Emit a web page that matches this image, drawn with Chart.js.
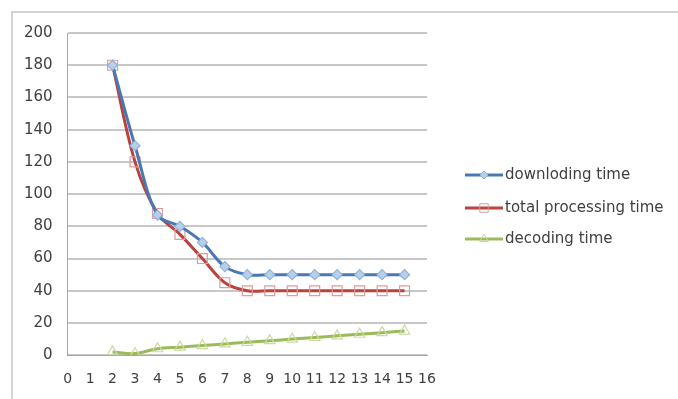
<!DOCTYPE html>
<html>
<head>
<meta charset="utf-8">
<script src="https://cdn.jsdelivr.net/npm/chart.js@4/dist/chart.umd.min.js"></script>
<style>
  html, body { margin: 0; padding: 0; background: #fff; }
  #wrap { position: absolute; left: 0; top: 0; width: 678px; height: 399px; }
  #frame { position: absolute; left: 11px; top: 11px; width: 667px; height: 388px;
           border-top: 2px solid #d4d4d4; border-left: 2px solid #d4d4d4; box-sizing: border-box; }
</style>
</head>
<body>
<div id="wrap">
  <div id="frame"></div>
  <canvas id="chart" width="678" height="399"></canvas>
</div>
<script>
'use strict';

// --- DADOS ---
const xValues = [2, 3, 4, 5, 6, 7, 8, 9, 10, 11, 12, 13, 14, 15];
const downloadingTime = [180, 130, 87, 80, 70, 55, 50, 50, 50, 50, 50, 50, 50, 50];
const totalProcessingTime = [180, 120, 88, 75, 60, 45, 40, 40, 40, 40, 40, 40, 40, 40];
const decodingTime = [2, 1, 4, 5, 6, 7, 8, 9, 10, 11, 12, 13, 14, 15];
const seriesNames = ['downloding time', 'total processing time', 'decoding time'];
const yTicks = [0, 20, 40, 60, 80, 100, 120, 140, 160, 180, 200];
const xTicks = [0, 1, 2, 3, 4, 5, 6, 7, 8, 9, 10, 11, 12, 13, 14, 15, 16];

const toPoints = (ys) => xValues.map((x, i) => ({ x: x, y: ys[i] }));

const FONT = '"DejaVu Sans", sans-serif';

const styles = [
    { line: '#4a78b4', fill: '#b8cfe8', edge: '#8fb2dc', point: 'rectRot', radius: 5 },
    { line: '#b8433f', fill: 'rgba(255,255,255,0)', edge: '#e29a9a', point: 'rect', radius: 7 },
    { line: '#9bbb59', fill: 'rgba(255,255,255,0)', edge: '#c9dca0', point: 'triangle', radius: 6 }
];

// --- LEGENDA (desenhada no canvas) ---
const sideLegend = {
    id: 'sideLegend',
    afterDraw(chart) {
        const ctx = chart.ctx;
        const rows = [175, 208, 239];
        ctx.save();
        chart.data.datasets.forEach((ds, i) => {
            const st = styles[i];
            const y = rows[i];
            ctx.strokeStyle = st.line;
            ctx.lineWidth = 3;
            ctx.beginPath();
            ctx.moveTo(465, y);
            ctx.lineTo(503, y);
            ctx.stroke();
            ctx.fillStyle = st.fill;
            ctx.strokeStyle = st.edge;
            ctx.lineWidth = 1;
            Chart.helpers.drawPoint(ctx, { pointStyle: st.point, radius: st.radius - 1, borderWidth: 1 }, 484, y);
            ctx.fillStyle = '#404040';
            ctx.font = '15px ' + FONT;
            ctx.textBaseline = 'middle';
            ctx.textAlign = 'left';
            ctx.fillText(ds.label, 505, y);
        });
        ctx.restore();
    }
};

const ctx = document.getElementById('chart').getContext('2d');
new Chart(ctx, {
    type: 'line',
    data: {
        datasets: [downloadingTime, totalProcessingTime, decodingTime].map((vals, i) => ({
            label: seriesNames[i],
            data: toPoints(vals),
            borderColor: styles[i].line,
            borderWidth: 3,
            tension: 0.35,
            pointStyle: styles[i].point,
            pointRadius: styles[i].radius,
            pointBackgroundColor: styles[i].fill,
            pointBorderColor: styles[i].edge,
            pointBorderWidth: 1.2,
            fill: false
        }))
    },
    options: {
        responsive: false,
        animation: false,
        layout: { padding: { left: 9, top: 33, right: 251, bottom: 0 } },
        plugins: { legend: { display: false }, tooltip: { enabled: false } },
        scales: {
            x: {
                type: 'linear',
                min: 0, max: 16,
                afterBuildTicks: (axis) => { axis.ticks = xTicks.map(v => ({ value: v })); },
                grid: { display: false, drawTicks: true, tickLength: 5 },
                border: { color: '#a6a6a6', width: 1 },
                ticks: { color: '#404040', font: { size: 14, family: FONT }, padding: 11, maxRotation: 0, autoSkip: false }
            },
            y: {
                min: 0, max: 200,
                afterBuildTicks: (axis) => { axis.ticks = yTicks.map(v => ({ value: v })); },
                grid: { color: '#c8c8c8', lineWidth: 2, drawTicks: false },
                border: { color: '#a6a6a6', width: 1 },
                ticks: { color: '#404040', font: { size: 15, family: FONT }, padding: 15 }
            }
        }
    },
    plugins: [sideLegend]
});
</script>
</body>
</html>
